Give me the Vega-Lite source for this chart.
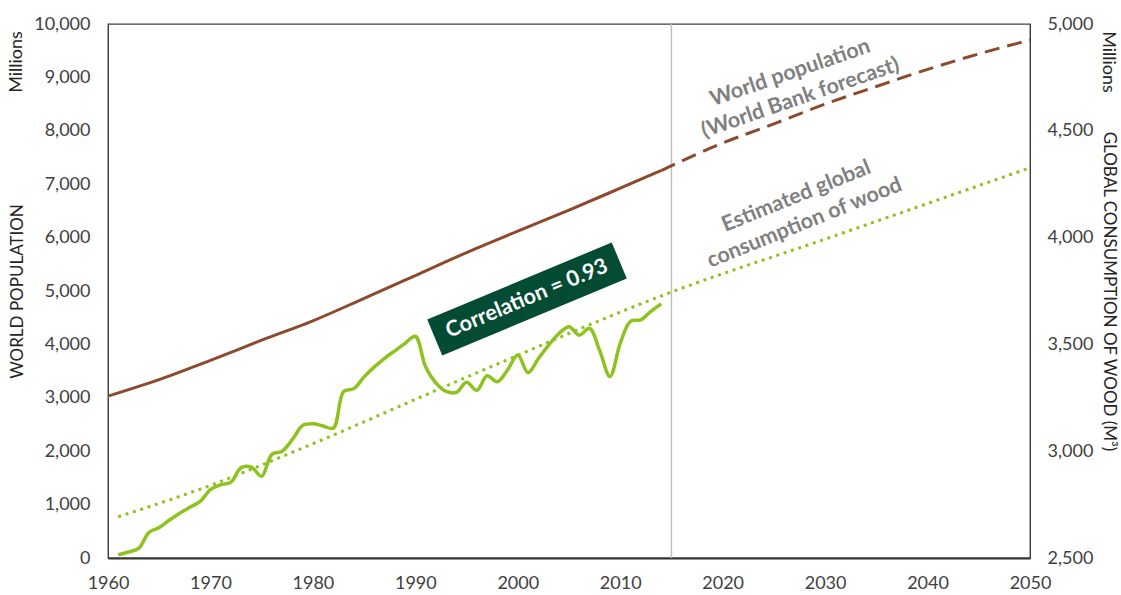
{
  "$schema": "https://vega.github.io/schema/vega-lite/v6.json",
  "width": 922,
  "height": 534,
  "autosize": {"type": "none"},
  "padding": {"left": 108, "top": 24, "right": 91, "bottom": 37},
  "background": "white",
  "config": {
    "font": "Lato",
    "view": {"stroke": "#404040", "strokeWidth": 1.3},
    "axis": {
      "grid": false,
      "ticks": false,
      "labelFont": "Lato",
      "labelFontSize": 18,
      "labelColor": "#404040",
      "domainColor": "#404040",
      "titleFont": "Lato",
      "titleFontSize": 17,
      "titleFontWeight": "normal",
      "titleColor": "#262626"
    }
  },
  "datasets": {
    "pop": [
      {"year": 1960, "v": 3032, "period": "Actual"},
      {"year": 1965, "v": 3340, "period": "Actual"},
      {"year": 1970, "v": 3700, "period": "Actual"},
      {"year": 1975, "v": 4079, "period": "Actual"},
      {"year": 1980, "v": 4442, "period": "Actual"},
      {"year": 1985, "v": 4862, "period": "Actual"},
      {"year": 1990, "v": 5290, "period": "Actual"},
      {"year": 1995, "v": 5720, "period": "Actual"},
      {"year": 2000, "v": 6120, "period": "Actual"},
      {"year": 2005, "v": 6515, "period": "Actual"},
      {"year": 2010, "v": 6925, "period": "Actual"},
      {"year": 2014, "v": 7256, "period": "Actual"},
      {"year": 2014, "v": 7256, "period": "Forecast"},
      {"year": 2020, "v": 7770, "period": "Forecast"},
      {"year": 2025, "v": 8130, "period": "Forecast"},
      {"year": 2030, "v": 8500, "period": "Forecast"},
      {"year": 2035, "v": 8830, "period": "Forecast"},
      {"year": 2040, "v": 9150, "period": "Forecast"},
      {"year": 2045, "v": 9440, "period": "Forecast"},
      {"year": 2050, "v": 9700, "period": "Forecast"}
    ],
    "wood": [
      {"year": 1961, "w": 2515}, {"year": 1962, "w": 2528}, {"year": 1963, "w": 2545},
      {"year": 1964, "w": 2620}, {"year": 1965, "w": 2643}, {"year": 1966, "w": 2678},
      {"year": 1967, "w": 2710}, {"year": 1968, "w": 2738}, {"year": 1969, "w": 2765},
      {"year": 1970, "w": 2820}, {"year": 1971, "w": 2843}, {"year": 1972, "w": 2855},
      {"year": 1973, "w": 2923}, {"year": 1974, "w": 2925}, {"year": 1975, "w": 2883},
      {"year": 1976, "w": 2985}, {"year": 1977, "w": 3000}, {"year": 1978, "w": 3055},
      {"year": 1979, "w": 3120}, {"year": 1980, "w": 3128}, {"year": 1981, "w": 3118},
      {"year": 1982, "w": 3108}, {"year": 1983, "w": 3280}, {"year": 1984, "w": 3293},
      {"year": 1985, "w": 3348}, {"year": 1986, "w": 3395}, {"year": 1987, "w": 3435},
      {"year": 1988, "w": 3470}, {"year": 1989, "w": 3505}, {"year": 1990, "w": 3538},
      {"year": 1991, "w": 3395}, {"year": 1992, "w": 3320}, {"year": 1993, "w": 3280},
      {"year": 1994, "w": 3275}, {"year": 1995, "w": 3323}, {"year": 1996, "w": 3285},
      {"year": 1997, "w": 3353}, {"year": 1998, "w": 3325}, {"year": 1999, "w": 3380},
      {"year": 2000, "w": 3450}, {"year": 2001, "w": 3368}, {"year": 2002, "w": 3433},
      {"year": 2003, "w": 3495}, {"year": 2004, "w": 3550}, {"year": 2005, "w": 3583},
      {"year": 2006, "w": 3543}, {"year": 2007, "w": 3575}, {"year": 2008, "w": 3470},
      {"year": 2009, "w": 3350}, {"year": 2010, "w": 3505}, {"year": 2011, "w": 3608},
      {"year": 2012, "w": 3615}, {"year": 2013, "w": 3655}, {"year": 2014, "w": 3690}
    ],
    "trend": [
      {"year": 1961, "w": 2693},
      {"year": 1970, "w": 2840},
      {"year": 1979, "w": 3015},
      {"year": 1996, "w": 3367},
      {"year": 2015, "w": 3745},
      {"year": 2030, "w": 3993},
      {"year": 2050, "w": 4327}
    ],
    "marker": [{"year": 2015}],
    "popNotes": [
      {"year": 2026.6, "v": 9077, "text": "World population"},
      {"year": 2027.6, "v": 8609, "text": "(World Bank forecast)"}
    ],
    "woodNotes": [
      {"year": 2027.2, "v": 6766, "text": "Estimated global"},
      {"year": 2028.0, "v": 6268, "text": "consumption  of wood"}
    ],
    "corr": [{"year": 2000.9, "v": 4850, "text": "Correlation = 0.93"}],
    "leftUnit": [{"year": 1951.1, "v": 9289, "text": "Millions"}],
    "rightUnit": [{"year": 2057.6, "w": 4822, "text": "Millions"}]
  },
  "layer": [
    {
      "layer": [
        {
          "data": {"name": "marker"},
          "mark": {"type": "rule", "color": "#BFBFBF", "strokeWidth": 1.5},
          "encoding": {
            "x": {"field": "year", "type": "quantitative"}
          }
        },
        {
          "data": {"name": "pop"},
          "transform": [{"filter": "datum.period == 'Actual'"}],
          "mark": {"type": "line", "color": "#8B4A2B", "strokeWidth": 3, "interpolate": "monotone"},
          "encoding": {
            "x": {
              "field": "year", "type": "quantitative",
              "scale": {"domain": [1960, 2050], "nice": false, "zero": false},
              "axis": {"title": null, "values": [1960, 1970, 1980, 1990, 2000, 2010, 2020, 2030, 2040, 2050], "format": "d", "labelPadding": 16, "domainWidth": 2, "domainColor": "#333333", "labelFlush": false}
            },
            "y": {
              "field": "v", "type": "quantitative",
              "scale": {"domain": [0, 10000], "nice": false},
              "axis": {"orient": "left", "title": "WORLD POPULATION", "values": [0, 1000, 2000, 3000, 4000, 5000, 6000, 7000, 8000, 9000, 10000], "format": ",.0f", "labelPadding": 18, "titleAngle": -90, "titleX": -91, "titleY": 267, "titleAlign": "center", "titleBaseline": "middle"}
            }
          }
        },
        {
          "data": {"name": "pop"},
          "transform": [{"filter": "datum.period == 'Forecast'"}],
          "mark": {"type": "line", "color": "#8B4A2B", "strokeWidth": 3, "strokeDash": [15, 8], "interpolate": "monotone"},
          "encoding": {
            "x": {"field": "year", "type": "quantitative"},
            "y": {"field": "v", "type": "quantitative"}
          }
        },
        {
          "data": {"name": "popNotes"},
          "mark": {"type": "text", "font": "Lato", "fontSize": 21.5, "fontWeight": "bold", "color": "#808080", "angle": -19, "align": "center", "baseline": "middle"},
          "encoding": {
            "x": {"field": "year", "type": "quantitative"},
            "y": {"field": "v", "type": "quantitative"},
            "text": {"field": "text"}
          }
        },
        {
          "data": {"name": "woodNotes"},
          "mark": {"type": "text", "font": "Lato", "fontSize": 21.5, "fontWeight": "bold", "color": "#808080", "angle": -22, "align": "center", "baseline": "middle"},
          "encoding": {
            "x": {"field": "year", "type": "quantitative"},
            "y": {"field": "v", "type": "quantitative"},
            "text": {"field": "text"}
          }
        },
        {
          "data": {"name": "corr"},
          "mark": {"type": "point", "shape": "M-1,-0.195L1,-0.195L1,0.195L-1,0.195Z", "size": 40000, "angle": -22.7, "filled": true, "opacity": 1, "color": "#034B33", "strokeWidth": 0},
          "encoding": {
            "x": {"field": "year", "type": "quantitative"},
            "y": {"field": "v", "type": "quantitative"}
          }
        },
        {
          "data": {"name": "corr"},
          "mark": {"type": "text", "font": "Lato", "fontSize": 21.5, "fontWeight": "bold", "color": "white", "angle": -22.7, "align": "center", "baseline": "middle"},
          "encoding": {
            "x": {"field": "year", "type": "quantitative"},
            "y": {"field": "v", "type": "quantitative"},
            "text": {"field": "text"}
          }
        },
        {
          "data": {"name": "leftUnit"},
          "mark": {"type": "text", "font": "Lato", "fontSize": 18, "color": "#262626", "angle": -90, "align": "center", "baseline": "middle"},
          "encoding": {
            "x": {"field": "year", "type": "quantitative"},
            "y": {"field": "v", "type": "quantitative"},
            "text": {"field": "text"}
          }
        }
      ]
    },
    {
      "layer": [
        {
          "data": {"name": "wood"},
          "mark": {"type": "line", "color": "#8DC21F", "strokeWidth": 3.5, "interpolate": "catmull-rom"},
          "encoding": {
            "x": {"field": "year", "type": "quantitative"},
            "y": {
              "field": "w", "type": "quantitative",
              "scale": {"domain": [2500, 5000], "nice": false, "zero": false},
              "axis": {"orient": "right", "title": "GLOBAL CONSUMPTION OF WOOD (M³)", "values": [2500, 3000, 3500, 4000, 4500, 5000], "format": ",.0f", "labelPadding": 17, "titleAngle": 90, "titleX": 78, "titleY": 267, "titleAlign": "center", "titleBaseline": "middle"}
            }
          }
        },
        {
          "data": {"name": "trend"},
          "mark": {"type": "line", "color": "#8DC21F", "strokeWidth": 3, "strokeDash": [3, 4.7], "interpolate": "monotone"},
          "encoding": {
            "x": {"field": "year", "type": "quantitative"},
            "y": {"field": "w", "type": "quantitative"}
          }
        },
        {
          "data": {"name": "rightUnit"},
          "mark": {"type": "text", "font": "Lato", "fontSize": 18, "color": "#262626", "angle": 90, "align": "center", "baseline": "middle"},
          "encoding": {
            "x": {"field": "year", "type": "quantitative"},
            "y": {"field": "w", "type": "quantitative"},
            "text": {"field": "text"}
          }
        }
      ]
    }
  ],
  "resolve": {"scale": {"y": "independent"}}
}
